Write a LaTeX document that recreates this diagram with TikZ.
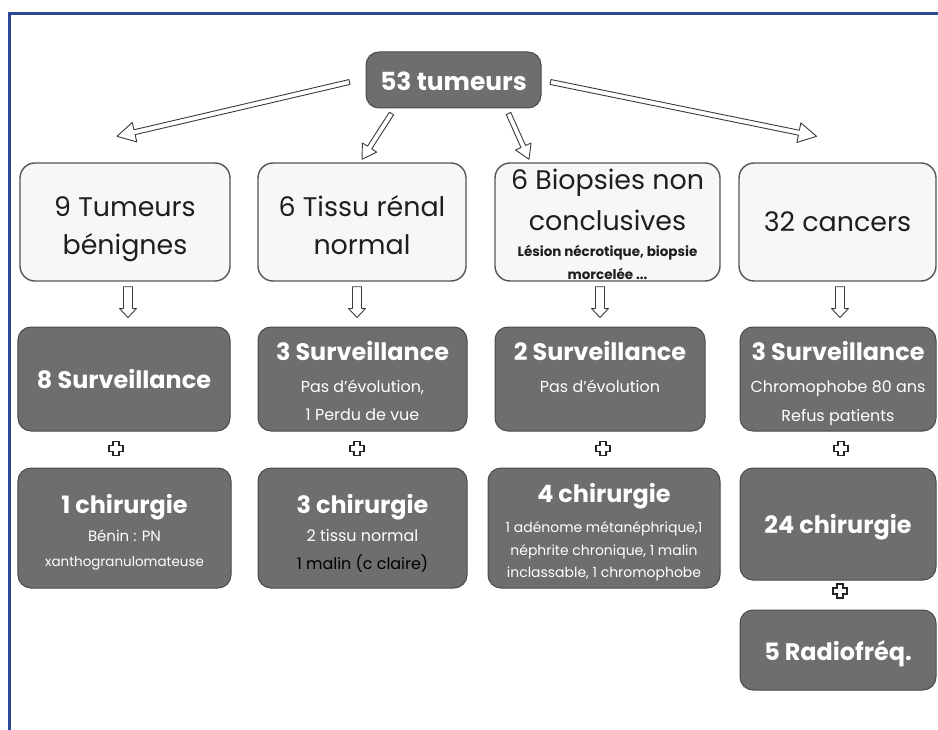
\documentclass[tikz,border=0pt]{standalone}
\usepackage{fontspec}
\setmainfont{Poppins}
\usetikzlibrary{calc}
\definecolor{frameblue}{HTML}{2C4892}
\definecolor{darkfill}{HTML}{6E6E6E}
\definecolor{darkedge}{HTML}{4A4A4A}
\definecolor{lightfill}{HTML}{F7F7F7}
\definecolor{lightedge}{HTML}{555555}
\definecolor{inktext}{HTML}{1E1E1E}
\definecolor{arrowink}{HTML}{3A3A3A}
\newcommand{\mysub}{\fontsize{16}{20}\selectfont\mdseries}
\newcommand{\mysmall}{\fontsize{13.5}{16}\selectfont\mdseries}
\newcommand{\mysmallc}{\fontsize{14}{16}\selectfont\mdseries}
\newcommand{\mysmallb}{\fontsize{13.5}{16}\selectfont\bfseries}
\newcommand{\topstrut}[1]{\rule{0pt}{#1}}
% hollow block arrow: #1 name, #2 start coord, #3 tip coord, #4 shaft half width, #5 head half width, #6 head length
\newcommand{\hollowarrow}[6]{%
  \coordinate (#1-h) at ($(#3)!#6!(#2)$);
  \draw[arrowline] ($(#2)!#4!90:(#3)$) -- ($(#1-h)!#4!90:(#3)$) -- ($(#1-h)!#5!90:(#3)$) -- (#3)
    -- ($(#1-h)!#5!-90:(#3)$) -- ($(#1-h)!#4!-90:(#3)$) -- ($(#2)!#4!-90:(#3)$) -- cycle;
}
\begin{document}
\begin{tikzpicture}[x=1bp,y=-1bp,
  darkbox/.style={draw=darkedge, line width=1bp, fill=darkfill, rounded corners=13bp,
    text=white, align=center, inner sep=0pt, font=\fontsize{24}{28}\selectfont\bfseries},
  lightbox/.style={draw=lightedge, line width=1.4bp, fill=lightfill, rounded corners=15bp,
    text=inktext, align=center, inner sep=0pt, font=\fontsize{27}{38}\selectfont},
  arrowline/.style={draw=arrowink, line width=0.9bp, fill=white, line join=round},
  plusline/.style={draw=black!85, line width=1.6bp, fill=white, line join=miter},
  plussign/.pic={\draw[plusline] (-3,-7) -- (3,-7) -- (3,-3) -- (7,-3) -- (7,3) -- (3,3)
     -- (3,7) -- (-3,7) -- (-3,3) -- (-7,3) -- (-7,-3) -- (-3,-3) -- cycle;},
]
\useasboundingbox (0,0) rectangle (938,730);
\fill[white] (0,0) rectangle (938,730);
\draw[frameblue, line width=3.5bp] (9.5,731) -- (9.5,13.5) -- (939,13.5);

% root
\node[darkbox, minimum width=175bp, minimum height=56bp, font=\fontsize{25}{30}\selectfont\bfseries] (root) at (453.5,80) {\topstrut{22pt}53 tumeurs};

% row 1
\node[lightbox, minimum width=210bp, minimum height=118bp] (b1) at (125,222) {\topstrut{35pt}9 Tumeurs\\bénignes};
\node[lightbox, minimum width=208bp, minimum height=118bp] (b2) at (362,222) {\topstrut{27.5pt}6 Tissu rénal\\normal};
\node[lightbox, minimum width=225bp, minimum height=118bp] (b3) at (607.5,222)
  {\topstrut{25pt}6 Biopsies non\\[3pt]conclusives\\[-12pt]{\mysmallb Lésion nécrotique, biopsie}\\[-15pt]{\mysmallb morcelée ...}};
\node[lightbox, minimum width=197bp, minimum height=118bp] (b4) at (837.5,222) {32 cancers};

% row 2
\node[darkbox, minimum width=212bp, minimum height=104bp] (s1) at (124,379) {8 Surveillance};
\node[darkbox, minimum width=209bp, minimum height=104bp] (s2) at (362.5,379)
  {\topstrut{24pt}3 Surveillance\\[4pt]{\mysub Pas d’évolution,}\\{\mysub 1 Perdu de vue}};
\node[darkbox, minimum width=210bp, minimum height=104bp] (s3) at (600,379)
  {\topstrut{23pt}2 Surveillance\\[4pt]{\mysub Pas d’évolution}\\{\mysub\phantom{1 Perdu de vue}}};
\node[darkbox, minimum width=196bp, minimum height=104bp] (s4) at (838,379)
  {\topstrut{29pt}3 Surveillance\\[4pt]{\mysub Chromophobe 80 ans}\\[1pt]{\mysub Refus patients}};

% row 3
\node[darkbox, minimum width=213bp, minimum height=120bp] (c1) at (124.5,528)
  {\topstrut{28pt}1 chirurgie\\{\fontsize{15}{18}\selectfont\mdseries Bénin : PN}\\[-3pt]{\mysmall xanthogranulomateuse}};
\node[darkbox, minimum width=209bp, minimum height=120bp] (c2) at (362.5,528)
  {\topstrut{30pt}3 chirurgie\\[1pt]{\mysub 2 tissu normal}\\{\mysub\color{black}1 malin (c claire)}};
\node[darkbox, minimum width=232bp, minimum height=120bp] (c3) at (604,528)
  {\topstrut{28pt}4 chirurgie\\[2pt]{\mysmallc 1 adénome métanéphrique,1}\\[-5pt]{\mysmallc néphrite chronique, 1 malin}\\[-5pt]{\mysmallc inclassable, 1 chromophobe}};
\node[darkbox, minimum width=196bp, minimum height=112bp] (c4) at (838,524) {\topstrut{26pt}24 chirurgie};
\node[darkbox, minimum width=196bp, minimum height=80bp] (r5) at (838,650) {\topstrut{27pt}5 Radiofréq.};

% arrows from root
\coordinate (a1s) at ($(root.west)+(-16,2)$);
\coordinate (a1e) at ($(b1.north)+(-8,-26)$);
\coordinate (a2s) at ($(root.south west)+(26,5)$);
\coordinate (a2e) at ($(b2.north)+(0,-3)$);
\coordinate (a3s) at ($(root.south east)+(-33,5)$);
\coordinate (a3e) at ($(b3.north)+(-78.5,-3)$);
\coordinate (a4s) at ($(root.east)+(9,2)$);
\coordinate (a4e) at ($(b4.north)+(-21,-26)$);
\hollowarrow{a1}{a1s}{a1e}{2.5bp}{10bp}{18bp}
\hollowarrow{a2}{a2s}{a2e}{2.5bp}{8.5bp}{14bp}
\hollowarrow{a3}{a3s}{a3e}{2.5bp}{8.5bp}{14bp}
\hollowarrow{a4}{a4s}{a4e}{2.5bp}{10bp}{18bp}

% down arrows row 1 -> row 2
\coordinate (d1s) at ($(b1.south)+(3,5)$);   \coordinate (d1e) at ($(s1.north)+(4,-9)$);
\coordinate (d2s) at ($(b2.south)+(-5,5)$);  \coordinate (d2e) at ($(s2.north)+(-5.5,-9)$);
\coordinate (d3s) at ($(b3.south)+(-7.5,5)$);\coordinate (d3e) at ($(s3.north)+(0,-9)$);
\coordinate (d4s) at ($(b4.south)+(2.5,5)$); \coordinate (d4e) at ($(s4.north)+(2,-9)$);
\hollowarrow{d1}{d1s}{d1e}{4.5bp}{8.5bp}{9bp}
\hollowarrow{d2}{d2s}{d2e}{4.5bp}{8.5bp}{9bp}
\hollowarrow{d3}{d3s}{d3e}{4.5bp}{8.5bp}{9bp}
\hollowarrow{d4}{d4s}{d4e}{4.5bp}{8.5bp}{9bp}

% plus signs
\pic at ($($(s1.south)!0.5!(c1.north)$)+(-8,-1)$) {plussign};
\pic at ($($(s2.south)!0.5!(c2.north)$)+(-5.5,-1)$) {plussign};
\pic at ($($(s3.south)!0.5!(c3.north)$)+(1,-1)$) {plussign};
\pic at ($($(s4.south)!0.5!(c4.north)$)+(3,-1)$) {plussign};
\pic at ($($(c4.south)!0.5!(r5.north)$)+(2,-4)$) {plussign};
\end{tikzpicture}
\end{document}
